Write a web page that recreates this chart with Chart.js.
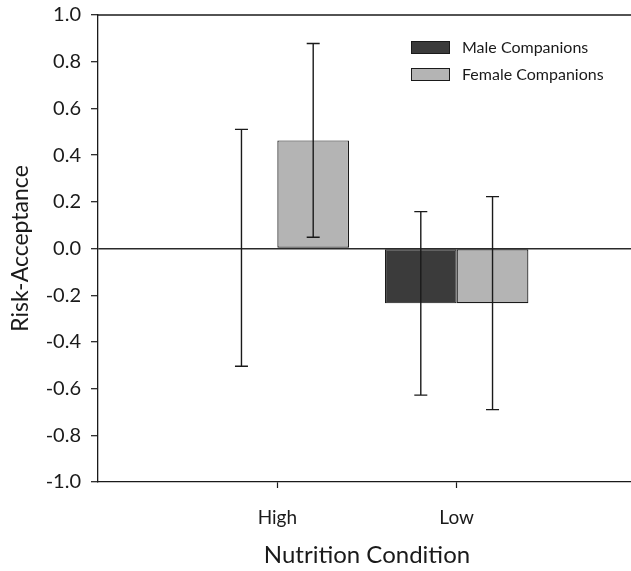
<!DOCTYPE html>
<html>
<head>
<meta charset="utf-8">
<script src="https://cdn.jsdelivr.net/npm/chart.js@4"></script>
<style>
  html, body { margin: 0; padding: 0; background: #fff; overflow: hidden; }
  canvas { display: block; }
</style>
</head>
<body>
<canvas id="chart" width="654" height="571"></canvas>
<script>
// データ
const categories = ['High', 'Low'];
const maleMeans = [0.003, -0.235];
const femaleMeans = [0.463, -0.234];
const maleErrors = [0.507, 0.393];
const femaleErrors = [0.415, 0.456];
const yTicks = [-1.0, -0.8, -0.6, -0.4, -0.2, 0.0, 0.2, 0.4, 0.6, 0.8, 1.0];

const seriesNames = ['Male Companions', 'Female Companions'];
const fontFamily = 'Lato, "DejaVu Sans", sans-serif';

// 両端に空のカテゴリを置いて、High/Low を軸の 1/3, 2/3 に置く
const labels = [''].concat(categories, ['']);
function pad(arr) { return [null].concat(arr, [null]); }

// エラーバー描画
const errorBarPlugin = {
  id: 'errorBars',
  afterDatasetsDraw(chart) {
    const ctx = chart.ctx;
    const yScale = chart.scales.y;
    const errs = [pad(maleErrors), pad(femaleErrors)];
    ctx.save();
    ctx.strokeStyle = '#1a1a1a';
    ctx.lineWidth = 1.4;
    chart.data.datasets.forEach(function(ds, di) {
      const meta = chart.getDatasetMeta(di);
      meta.data.forEach(function(bar, i) {
        const v = ds.data[i];
        const e = errs[di][i];
        if (v == null || e == null) return;
        const x = bar.x;
        const yTop = yScale.getPixelForValue(v + e);
        const yBot = yScale.getPixelForValue(v - e);
        const cap = 6.5;
        ctx.beginPath();
        ctx.moveTo(x, yTop); ctx.lineTo(x, yBot);
        ctx.moveTo(x - cap, yTop); ctx.lineTo(x + cap, yTop);
        ctx.moveTo(x - cap, yBot); ctx.lineTo(x + cap, yBot);
        ctx.stroke();
      });
    });
    ctx.restore();
  }
};

// 上の枠線と凡例
const decorPlugin = {
  id: 'decor',
  afterDraw(chart) {
    const ctx = chart.ctx;
    const area = chart.chartArea;
    ctx.save();
    ctx.strokeStyle = '#1a1a1a';
    ctx.lineWidth = 1.3;
    ctx.beginPath();
    ctx.moveTo(area.left, area.top);
    ctx.lineTo(area.right, area.top);
    ctx.stroke();

    ctx.font = '16px ' + fontFamily;
    ctx.textBaseline = 'middle';
    ctx.textAlign = 'left';
    chart.data.datasets.forEach(function(ds, i) {
      const bx = 411, by = 41 + i * 27;
      ctx.fillStyle = ds.backgroundColor;
      ctx.fillRect(bx, by, 39, 13);
      ctx.strokeStyle = '#1a1a1a';
      ctx.lineWidth = 1;
      ctx.strokeRect(bx + 0.5, by + 0.5, 38, 12);
      ctx.fillStyle = '#1a1a1a';
      ctx.fillText(ds.label, 462, by + 7);
    });
    ctx.restore();
  }
};

new Chart(document.getElementById('chart'), {
  type: 'bar',
  data: {
    labels: labels,
    datasets: [
      {
        label: seriesNames[0],
        data: pad(maleMeans),
        backgroundColor: '#3b3b3b',
        borderColor: '#1a1a1a',
        borderWidth: 1.2,
        borderSkipped: false
      },
      {
        label: seriesNames[1],
        data: pad(femaleMeans),
        backgroundColor: '#b4b4b4',
        borderColor: '#1a1a1a',
        borderWidth: 1.2,
        borderSkipped: false
      }
    ]
  },
  options: {
    responsive: false,
    animation: false,
    layout: { padding: { left: 0, top: 15, right: 4, bottom: 0 } },
    datasets: { bar: { categoryPercentage: 0.8, barPercentage: 1.0 } },
    plugins: {
      legend: { display: false },
      tooltip: { enabled: false }
    },
    scales: {
      x: {
        offset: false,
        afterFit: function(scale) { scale.height = 89; },
        grid: {
          offset: false,
          drawOnChartArea: false,
          tickLength: 6,
          tickWidth: 1.2,
          tickColor: function(c) { return (c.index === 1 || c.index === 2) ? '#1a1a1a' : 'rgba(0,0,0,0)'; }
        },
        border: { display: true, color: '#1a1a1a', width: 1.3 },
        ticks: {
          color: '#1a1a1a',
          padding: 18,
          maxRotation: 0,
          font: { family: fontFamily, size: 19 }
        },
        title: {
          display: true,
          text: 'Nutrition Condition',
          color: '#1a1a1a',
          font: { family: fontFamily, size: 24 },
          padding: { top: 0, bottom: 1 }
        }
      },
      y: {
        min: -1,
        max: 1,
        afterFit: function(scale) {
          scale.width = 98;
          scale.paddingTop = 0;
          scale.paddingBottom = 0;
        },
        afterBuildTicks: function(scale) {
          scale.ticks = yTicks.map(function(v) { return { value: v }; });
        },
        grid: {
          drawOnChartArea: true,
          tickLength: 7,
          tickWidth: 1.2,
          lineWidth: 1.4,
          color: function(c) { return (c.tick && c.tick.value === 0) ? '#2a2a2a' : 'rgba(0,0,0,0)'; },
          tickColor: '#1a1a1a'
        },
        border: { display: true, color: '#1a1a1a', width: 1.3 },
        ticks: {
          color: '#1a1a1a',
          padding: 10,
          font: { family: fontFamily, size: 20, lineHeight: 1 },
          callback: function(v) { return Number(v).toFixed(1); }
        },
        title: {
          display: true,
          text: 'Risk-Acceptance',
          color: '#1a1a1a',
          font: { family: fontFamily, size: 23 },
          padding: { top: 7, bottom: 0 }
        }
      }
    }
  },
  plugins: [errorBarPlugin, decorPlugin]
});
</script>
</body>
</html>
